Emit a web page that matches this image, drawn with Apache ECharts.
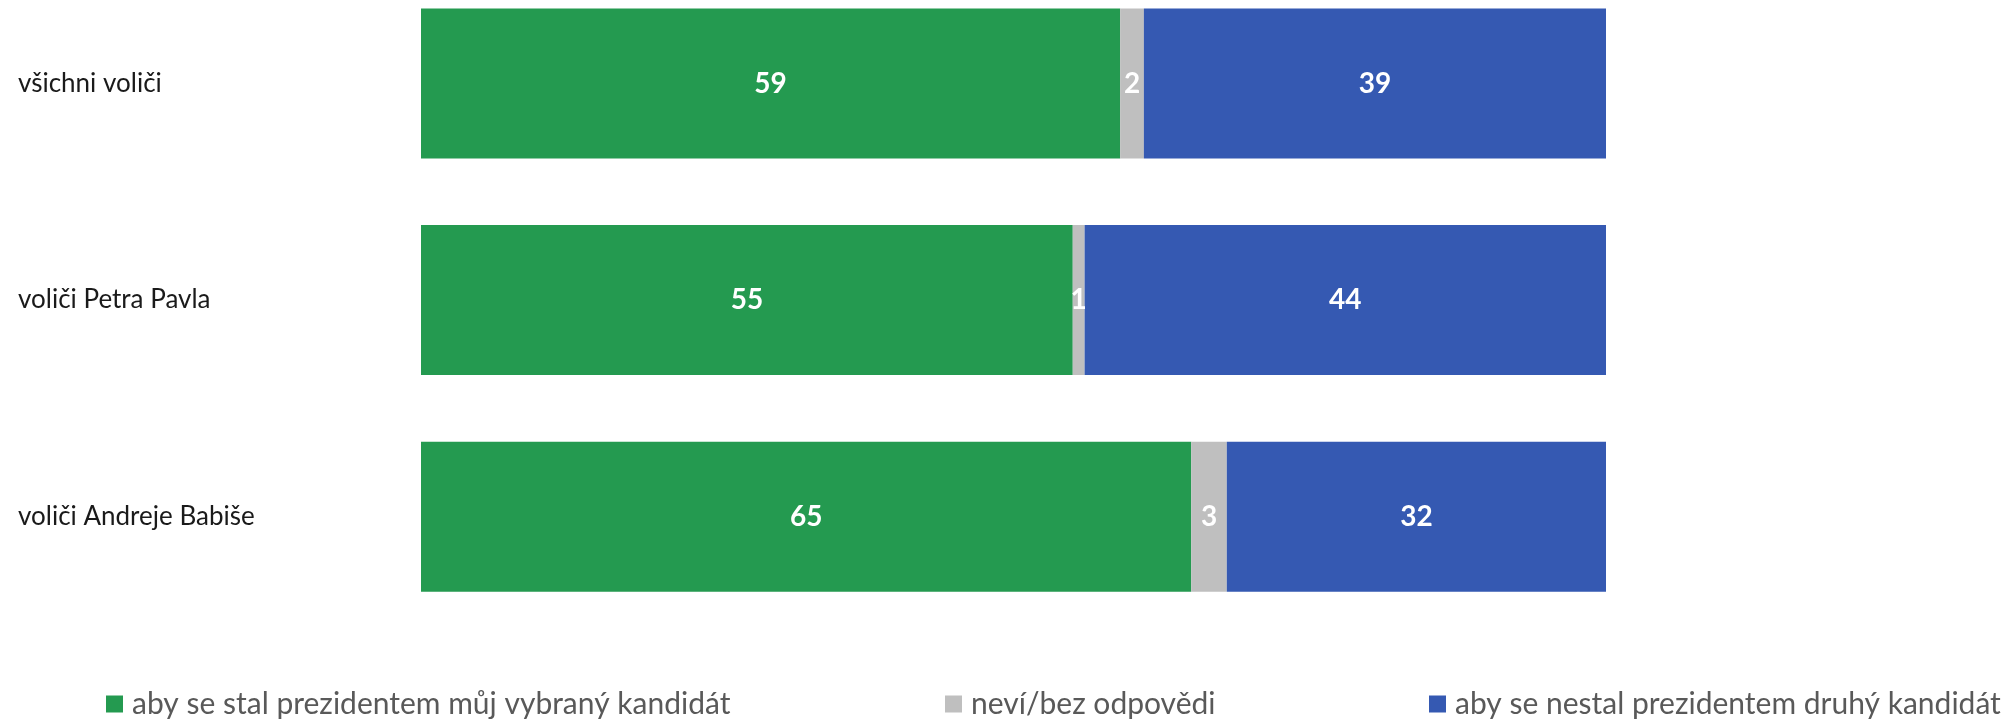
<!DOCTYPE html>
<html>
<head>
<meta charset="utf-8">
<script src="https://cdn.jsdelivr.net/npm/echarts@6/dist/echarts.min.js"></script>
<style>
html,body{margin:0;padding:0;background:#fff;}
#c{width:2008px;height:722px;}
</style>
</head>
<body>
<div id="c"></div>
<script>
const categories = ['všichni voliči', 'voliči Petra Pavla', 'voliči Andreje Babiše'];
const seriesNames = ['aby se stal prezidentem můj vybraný kandidát', 'neví/bez odpovědi', 'aby se nestal prezidentem druhý kandidát'];
const chosen = [59, 55, 65];
const dontKnow = [2, 1, 3];
const notOther = [39, 44, 32];
const colors = ['#249A50', '#BFBFBF', '#3559B2'];

const FONT = 'Lato, "Open Sans", sans-serif';
const chart = echarts.init(document.getElementById('c'), null, {renderer: 'canvas'});

function mk(name, data, color) {
  return {
    name: name, type: 'bar', stack: 'all', data: data, barWidth: 150,
    itemStyle: {color: color},
    label: {show: true, position: 'inside', color: '#fff', fontWeight: 'bold', fontSize: 28, fontFamily: FONT},
    emphasis: {disabled: true},
    animation: false
  };
}

const legendBase = {
  top: 689, padding: 0, itemWidth: 17, itemHeight: 17, icon: 'rect',
  textStyle: {color: '#595959', fontSize: 30, fontFamily: FONT, padding: [0, 0, 0, 4]}
};

chart.setOption({
  animation: false,
  grid: {left: 421, width: 1185, top: 83.5, height: 433.2, containLabel: false},
  xAxis: {type: 'value', min: 0, max: 100, show: false},
  yAxis: {
    type: 'category', data: categories, inverse: true, boundaryGap: false,
    axisLine: {show: false}, axisTick: {show: false}, splitLine: {show: false},
    axisLabel: {align: 'left', margin: 403, color: '#1a1a1a', fontSize: 26, fontFamily: FONT}
  },
  legend: [
    Object.assign({left: 106, data: [seriesNames[0]]}, legendBase),
    Object.assign({left: 945, data: [seriesNames[1]]}, legendBase),
    Object.assign({left: 1429, data: [seriesNames[2]]}, legendBase)
  ],
  series: [
    mk(seriesNames[0], chosen, colors[0]),
    mk(seriesNames[1], dontKnow, colors[1]),
    mk(seriesNames[2], notOther, colors[2])
  ]
});
</script>
</body>
</html>
